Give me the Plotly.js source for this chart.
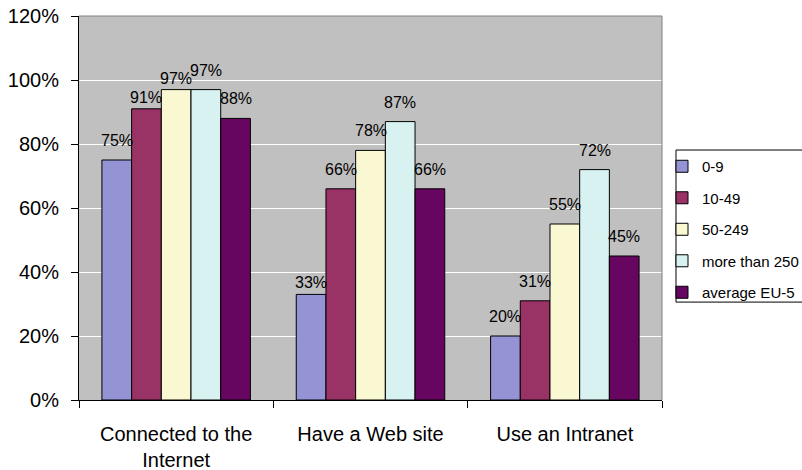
<!DOCTYPE html>
<html>
<head>
<meta charset="utf-8">
<script src="https://cdn.plot.ly/plotly-3.0.1.min.js"></script>
<style>html,body{margin:0;padding:0;background:#fff;}#chart{width:802px;height:470px;}</style>
</head>
<body>
<div id="chart"></div>
<script>
const categories = ["Connected to the<br>Internet", "Have a Web site", "Use an Intranet"];
const seriesNames = ["0-9", "10-49", "50-249", "more than 250", "average EU-5"];
const values_0_9 = [75, 33, 20];
const values_10_49 = [91, 66, 31];
const values_50_249 = [97, 78, 55];
const values_250plus = [97, 87, 72];
const values_avgEU5 = [88, 66, 45];
const yTicks = [0, 20, 40, 60, 80, 100, 120];
const colors = ["#9494D4", "#993366", "#FAF8D2", "#D8F2F2", "#660660"];

// label placement style (pixel shift above bar top), per series x category
const labelShift = [
  [9, 1, 9],
  [1, 9, 9],
  [1, 9, 9],
  [9, 9, 9],
  [9, 9, 9]
];

const allValues = [values_0_9, values_10_49, values_50_249, values_250plus, values_avgEU5];
const font = "Liberation Sans, Arial, sans-serif";
const BARGAP = 0.236;
const nSeries = allValues.length;
const barW = (1 - BARGAP) / nSeries;

const traces = allValues.map((vals, i) => ({
  type: "bar",
  name: seriesNames[i],
  x: categories,
  y: vals,
  marker: {color: colors[i], line: {color: "#000", width: 1}},
  legendgroup: "g" + i,
  hoverinfo: "none"
}));

const annotations = [];
allValues.forEach((vals, i) => {
  vals.forEach((v, c) => {
    annotations.push({
      xref: "x", yref: "y",
      x: c + (i - (nSeries - 1) / 2) * barW,
      y: v,
      text: v + "%",
      showarrow: false,
      xanchor: "center",
      yanchor: "bottom",
      yshift: labelShift[i][c],
      font: {family: font, size: 16, color: "#000"}
    });
  });
});

const layout = {
  width: 802,
  height: 470,
  margin: {l: 79, r: 140, t: 16, b: 70, pad: 0, autoexpand: false},
  paper_bgcolor: "#ffffff",
  plot_bgcolor: "#C0C0C0",
  barmode: "group",
  bargap: BARGAP,
  bargroupgap: 0,
  font: {family: font, size: 20, color: "#000"},
  showlegend: true,
  legend: {
    x: 1.0, xanchor: "left",
    y: 0.651, yanchor: "top",
    bgcolor: "rgba(0,0,0,0)",
    borderwidth: 0,
    font: {family: font, size: 15, color: "#000"},
    tracegroupgap: 9,
    traceorder: "grouped"
  },
  xaxis: {
    type: "category",
    tickson: "boundaries",
    ticks: "outside",
    ticklen: 7,
    tickcolor: "#000",
    showline: true,
    linecolor: "#000",
    linewidth: 1,
    showgrid: false,
    ticklabelstandoff: 16,
    tickfont: {family: font, size: 20, color: "#000"},
    fixedrange: true
  },
  yaxis: {
    range: [0, 120],
    tickvals: yTicks,
    ticktext: yTicks.map(v => v + "%"),
    ticks: "outside",
    ticklen: 7,
    tickcolor: "#000",
    showline: true,
    linecolor: "#000",
    linewidth: 1,
    showgrid: true,
    gridcolor: "#ffffff",
    gridwidth: 1,
    zeroline: false,
    ticklabelstandoff: 8,
    tickfont: {family: font, size: 20, color: "#000"},
    fixedrange: true
  },
  annotations: annotations,
  shapes: [
    {type: "line", xref: "paper", yref: "paper", x0: 0, x1: 1, y0: 1, y1: 1, line: {color: "#808080", width: 1}},
    {type: "line", xref: "paper", yref: "paper", x0: 1, x1: 1, y0: 0, y1: 1, line: {color: "#808080", width: 1}},
    {type: "rect", xref: "paper", yref: "paper", x0: 1.024, x1: 1.3, y0: 0.255, y1: 0.651, line: {color: "#000", width: 1}, fillcolor: "rgba(0,0,0,0)"}
  ]
};

Plotly.newPlot("chart", traces, layout, {displayModeBar: false, staticPlot: true});
</script>
</body>
</html>
